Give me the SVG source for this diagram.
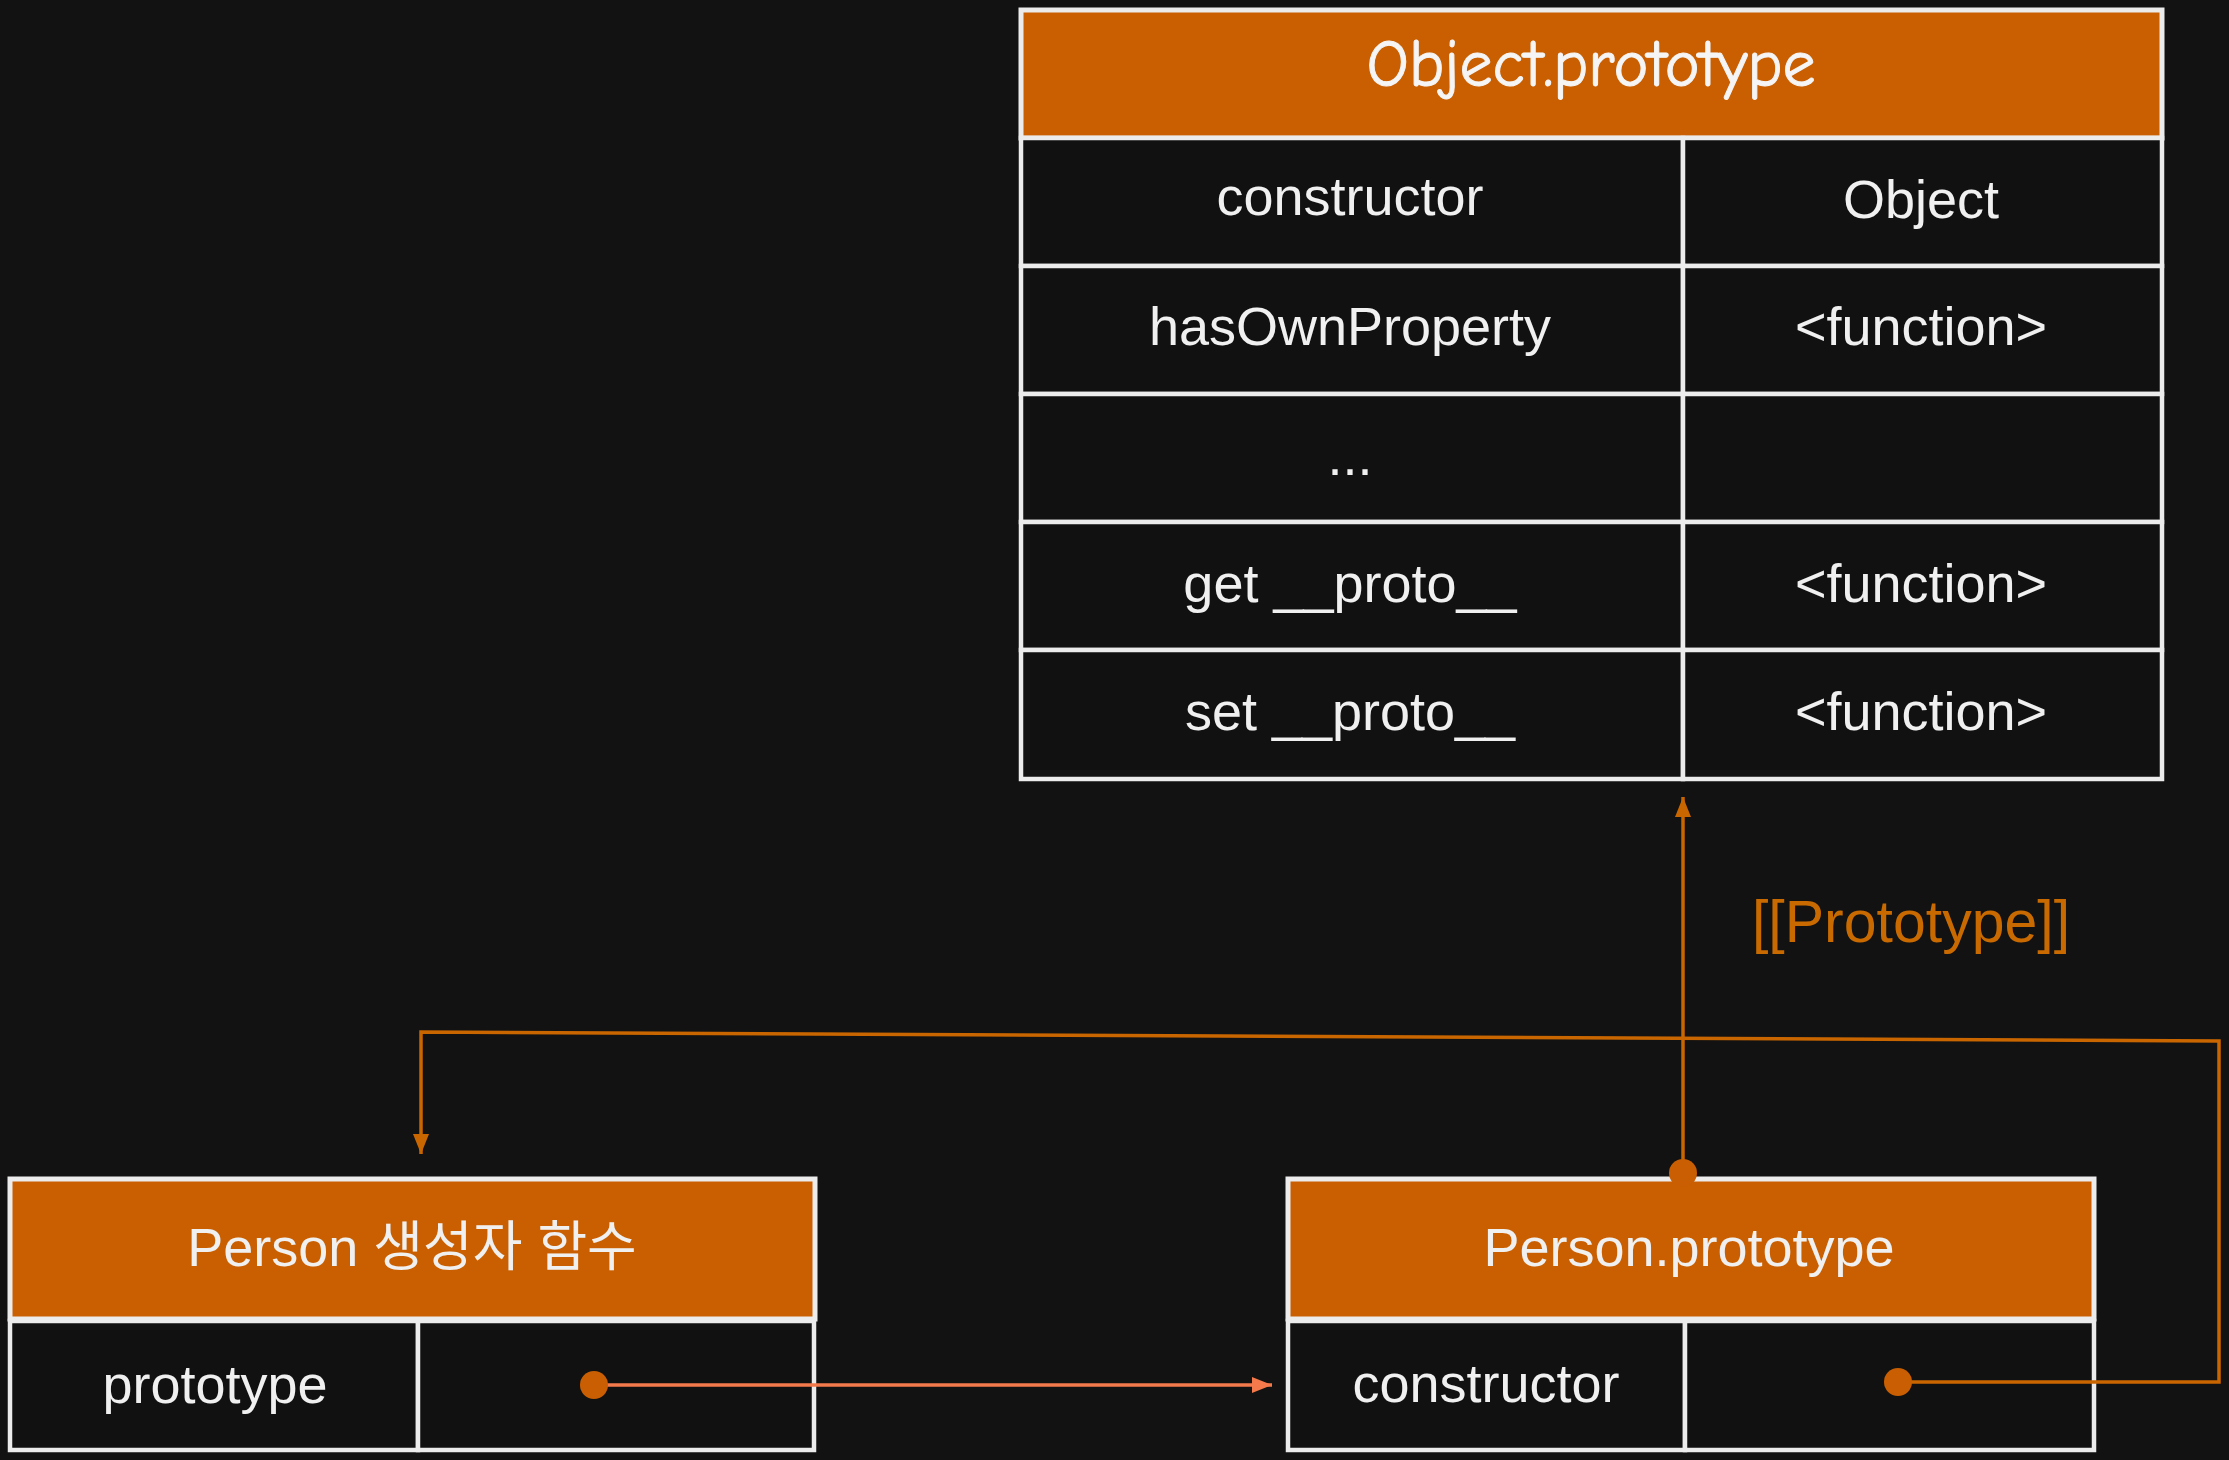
<svg xmlns="http://www.w3.org/2000/svg" width="2229" height="1460" viewBox="0 0 2229 1460">
<style>
.bg{fill:#121212}
.hdr{fill:#ca5f02;stroke:#ececec;stroke-width:5}
.cell{fill:#111111;stroke:#ececec;stroke-width:4.5}
.t{font-family:"Liberation Sans","Noto Sans CJK KR",sans-serif;font-size:54px;fill:#f0f0f0;text-anchor:middle}
.hand{font-family:"Comic Neue","Liberation Sans",sans-serif;font-size:66px;fill:#f5f5f5;stroke:#f5f5f5;stroke-width:1;text-anchor:middle}
.lbl{font-family:"Liberation Sans",sans-serif;font-size:59px;fill:#c86a00;text-anchor:middle}
.wire{fill:none;stroke:#c96600;stroke-width:3.5}
.coral{fill:none;stroke:#f47a4c;stroke-width:3.5}
.dot{fill:#c95f02}
</style>
<defs>
<marker id="ah" markerUnits="userSpaceOnUse" markerWidth="22" markerHeight="16" refX="20" refY="8" orient="auto">
<path d="M0,0 L20,8 L0,16 z" fill="#c96600"/>
</marker>
<marker id="ahc" markerUnits="userSpaceOnUse" markerWidth="22" markerHeight="16" refX="20" refY="8" orient="auto">
<path d="M0,0 L20,8 L0,16 z" fill="#f47a4c"/>
</marker>
</defs>
<rect class="bg" x="0" y="0" width="2229" height="1460"/>

<g id="object-prototype">
<rect class="hdr" x="1021" y="10" width="1141" height="128"/>
<text class="hand" x="1591" y="86">Object.prototype</text>
<rect class="cell" x="1021" y="138" width="662" height="128"/>
<rect class="cell" x="1683" y="138" width="479" height="128"/>
<rect class="cell" x="1021" y="266" width="662" height="128"/>
<rect class="cell" x="1683" y="266" width="479" height="128"/>
<rect class="cell" x="1021" y="394" width="662" height="128"/>
<rect class="cell" x="1683" y="394" width="479" height="128"/>
<rect class="cell" x="1021" y="522" width="662" height="128"/>
<rect class="cell" x="1683" y="522" width="479" height="128"/>
<rect class="cell" x="1021" y="650" width="662" height="129"/>
<rect class="cell" x="1683" y="650" width="479" height="129"/>
<text class="t" x="1350" y="215">constructor</text>
<text class="t" x="1921" y="218">Object</text>
<text class="t" x="1350" y="345">hasOwnProperty</text>
<text class="t" x="1921" y="345">&lt;function&gt;</text>
<text class="t" x="1350" y="475">...</text>
<text class="t" x="1350" y="602">get __proto__</text>
<text class="t" x="1921" y="602">&lt;function&gt;</text>
<text class="t" x="1350" y="730">set __proto__</text>
<text class="t" x="1921" y="730">&lt;function&gt;</text>
</g>

<g id="person-constructor">
<rect class="hdr" x="10" y="1179" width="805" height="140"/>
<text class="t" x="412" y="1266">Person 생성자 함수</text>
<rect class="cell" x="10" y="1321" width="408" height="129"/>
<rect class="cell" x="418" y="1321" width="396" height="129"/>
<text class="t" x="215" y="1403">prototype</text>
</g>

<g id="person-prototype">
<rect class="hdr" x="1288" y="1179" width="806" height="140"/>
<text class="t" x="1689" y="1266">Person.prototype</text>
<rect class="cell" x="1288" y="1321" width="397" height="129"/>
<rect class="cell" x="1685" y="1321" width="409" height="129"/>
<text class="t" x="1486" y="1402">constructor</text>
</g>

<g id="connectors">
<path class="wire" d="M1898,1382 H2219 V1041 L421,1032 V1154" marker-end="url(#ah)"/>
<path class="wire" d="M1683,1171 V797" marker-end="url(#ah)"/>
<path class="coral" d="M594,1385 H1272" marker-end="url(#ahc)"/>
<circle class="dot" cx="594" cy="1385" r="14"/>
<circle class="dot" cx="1898" cy="1382" r="14"/>
<circle class="dot" cx="1683" cy="1173" r="14"/>
<text class="lbl" x="1911" y="942">[[Prototype]]</text>
</g>
</svg>
